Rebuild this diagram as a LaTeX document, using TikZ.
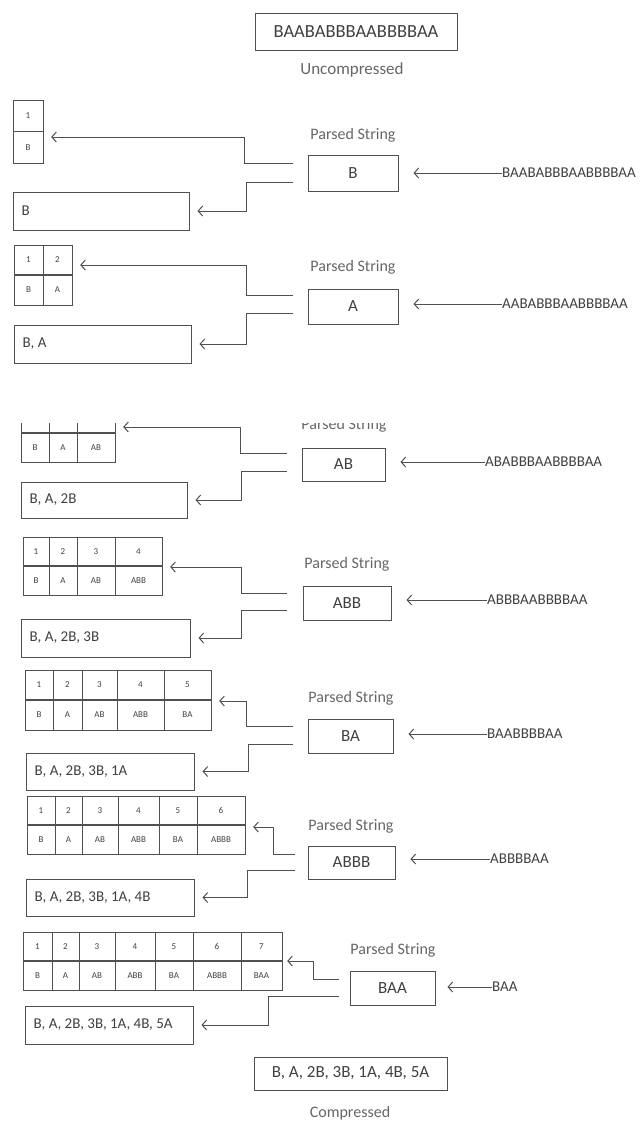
\documentclass[tikz,border=0pt]{standalone}
\usepackage{fontspec}
\setmainfont{Carlito}
\usetikzlibrary{arrows.meta,fit}
\definecolor{LzLine}{HTML}{505050}
\definecolor{LzText}{HTML}{404040}
\definecolor{LzSoft}{HTML}{666666}

\begin{document}
\begin{tikzpicture}[x=1pt,y=-1pt,
    box/.style={draw=LzLine, line width=1pt, inner sep=0pt},
    cell/.style={draw=LzLine, line width=1pt, inner sep=0pt, minimum height=29pt, text=LzText, font=\fontsize{9}{10}\selectfont},
    hull/.style={inner sep=0pt},
    split/.style={draw=LzLine, line width=1.7pt},
    pbox/.style={box, text=LzText, font=\fontsize{17}{20}\selectfont},
    rtext/.style={anchor=west, inner sep=0pt, text=LzText, font=\fontsize{15}{18}\selectfont},
    intext/.style={anchor=west, inner sep=0pt, text=LzText, font=\fontsize{15}{18}\selectfont},
    capt/.style={text=LzSoft, font=\fontsize{16}{19}\selectfont},
    arr/.style={draw=LzLine, line width=1pt, shorten >=8pt, -{Straight Barb[length=4.5pt,width=10pt]}}]
  \useasboundingbox (0,0) rectangle (643,1122);

  % Input string
  \node[pbox, minimum width=202pt, minimum height=37pt, font=\fontsize{18.5}{22}\selectfont] (src) at (356,31.5) {BAABABBBAABBBBAA};
  \node[capt, font=\fontsize{17}{20}\selectfont] (srccap) at (352,70) {Uncompressed};

  % Step 1: B
  \foreach \xa/\xb/\up/\lo [count=\i] in {13/43/1/B}{
    \pgfmathsetmacro\cw{\xb-\xa}
    \node[cell, minimum width=\cw pt, minimum height=31.5pt] (t1u\i) at ({(\xa+\xb)/2},115.75) {\up};
    \node[cell, minimum width=\cw pt, minimum height=31.5pt] (t1l\i) at ({(\xa+\xb)/2},147.25) {\lo};
  }
  \node[hull, fit={(13,100) (43,163)}] (tab1) {};
  \draw[split] (tab1.west) -- (tab1.east);
  \node[capt] (ps1) at (353,135) {Parsed String};
  \node[pbox, minimum width=90pt, minimum height=36pt] (pb1) at (353,173) {B};
  \node[intext] (in1) at (502,173) {BAABABBBAABBBBAA};
  \node[box, fit={(13,192) (189,230)}] (res1) {};
  \node[rtext] (rt1) at ([xshift=9pt]res1.west) {B};
  \coordinate (a1) at (293,163);
  \coordinate (b1) at (293,182);
  \coordinate (ku1) at (244,137);
  \coordinate (kl1) at (246,0);
  \draw[arr, shorten >=15pt] (in1.west) -- (in1.west -| pb1.east);
  \draw[arr] (a1) -| (ku1) -- (ku1 -| tab1.east);
  \draw[arr] (b1) -| (kl1 |- res1.east) -- (res1.east);

  % Step 2: A
  \foreach \xa/\xb/\up/\lo [count=\i] in {14/43/1/B, 43/72/2/A}{
    \pgfmathsetmacro\cw{\xb-\xa}
    \node[cell, minimum width=\cw pt, minimum height=30pt] (t2u\i) at ({(\xa+\xb)/2},260) {\up};
    \node[cell, minimum width=\cw pt, minimum height=30pt] (t2l\i) at ({(\xa+\xb)/2},290) {\lo};
  }
  \node[hull, fit={(14,245) (72,305)}] (tab2) {};
  \draw[split] (tab2.west) -- (tab2.east);
  \node[capt] (ps2) at (353,267) {Parsed String};
  \node[pbox, minimum width=90pt, minimum height=35pt] (pb2) at (353,306.5) {A};
  \node[intext] (in2) at (502,304) {AABABBBAABBBBAA};
  \node[box, fit={(14,325) (191,363)}] (res2) {};
  \node[rtext] (rt2) at ([xshift=9pt]res2.west) {B, A};
  \coordinate (a2) at (293,295);
  \coordinate (b2) at (293,313);
  \coordinate (ku2) at (246,265);
  \coordinate (kl2) at (246,0);
  \draw[arr, shorten >=15pt] (in2.west) -- (in2.west -| pb2.east);
  \draw[arr] (a2) -| (ku2) -- (ku2 -| tab2.east);
  \draw[arr] (b2) -| (kl2 |- res2.east) -- (res2.east);

  % Step 3: AB (top of this step is cut off)
  \foreach \xa/\xb/\up/\lo [count=\i] in {21/49//B, 49/77//A, 77/115//AB}{
    \pgfmathsetmacro\cw{\xb-\xa}
    \node[cell, minimum width=\cw pt] (t3u\i) at ({(\xa+\xb)/2},418.5) {\up};
    \node[cell, minimum width=\cw pt] (t3l\i) at ({(\xa+\xb)/2},447.5) {\lo};
  }
  \node[hull, fit={(21,404) (115,462)}] (tab3) {};
  \draw[split] (tab3.west) -- (tab3.east);
  \node[capt] (ps3) at (344,425) {Parsed String};
  \fill[white] (0,368) rectangle (643,423);
  \node[pbox, minimum width=83pt, minimum height=33pt] (pb3) at (343.5,464.5) {AB};
  \node[intext] (in3) at (485,462) {ABABBBAABBBBAA};
  \node[box, fit={(21,482) (187,518)}] (res3) {};
  \node[rtext] (rt3) at ([xshift=9pt]res3.west) {B, A, 2B};
  \coordinate (a3) at (287,453);
  \coordinate (b3) at (287,471);
  \coordinate (ku3) at (240,427);
  \coordinate (kl3) at (241,0);
  \draw[arr, shorten >=15pt] (in3.west) -- (in3.west -| pb3.east);
  \draw[arr] (a3) -| (ku3) -- (ku3 -| tab3.east);
  \draw[arr] (b3) -| (kl3 |- res3.east) -- (res3.east);

  % Step 4: ABB
  \foreach \xa/\xb/\up/\lo [count=\i] in {23/49/1/B, 49/77/2/A, 77/115/3/AB, 115/162/4/ABB}{
    \pgfmathsetmacro\cw{\xb-\xa}
    \node[cell, minimum width=\cw pt] (t4u\i) at ({(\xa+\xb)/2},551.5) {\up};
    \node[cell, minimum width=\cw pt] (t4l\i) at ({(\xa+\xb)/2},580.5) {\lo};
  }
  \node[hull, fit={(23,537) (162,595)}] (tab4) {};
  \draw[split] (tab4.west) -- (tab4.east);
  \node[capt] (ps4) at (347,564) {Parsed String};
  \node[pbox, minimum width=88pt, minimum height=34pt] (pb4) at (347,603) {ABB};
  \node[intext] (in4) at (487,600) {ABBBAABBBBAA};
  \node[box, fit={(21,619) (190,657)}] (res4) {};
  \node[rtext] (rt4) at ([xshift=9pt]res4.west) {B, A, 2B, 3B};
  \coordinate (a4) at (287,593);
  \coordinate (b4) at (287,610);
  \coordinate (ku4) at (241,567);
  \coordinate (kl4) at (241,0);
  \draw[arr, shorten >=15pt] (in4.west) -- (in4.west -| pb4.east);
  \draw[arr] (a4) -| (ku4) -- (ku4 -| tab4.east);
  \draw[arr] (b4) -| (kl4 |- res4.east) -- (res4.east);

  % Step 5: BA
  \foreach \xa/\xb/\up/\lo [count=\i] in {25/53/1/B, 53/82/2/A, 82/117/3/AB, 117/164/4/ABB, 164/211/5/BA}{
    \pgfmathsetmacro\cw{\xb-\xa}
    \node[cell, minimum width=\cw pt, minimum height=30pt] (t5u\i) at ({(\xa+\xb)/2},685) {\up};
    \node[cell, minimum width=\cw pt, minimum height=30pt] (t5l\i) at ({(\xa+\xb)/2},715) {\lo};
  }
  \node[hull, fit={(25,670) (211,730)}] (tab5) {};
  \draw[split] (tab5.west) -- (tab5.east);
  \node[capt] (ps5) at (351,698) {Parsed String};
  \node[pbox, minimum width=85pt, minimum height=34pt] (pb5) at (350.5,736) {BA};
  \node[intext] (in5) at (487,734) {BAABBBBAA};
  \node[box, fit={(26,753) (194,790)}] (res5) {};
  \node[rtext] (rt5) at ([xshift=9pt]res5.west) {B, A, 2B, 3B, 1A};
  \coordinate (a5) at (293,726);
  \coordinate (b5) at (293,744);
  \coordinate (ku5) at (246,701);
  \coordinate (kl5) at (248,0);
  \draw[arr, shorten >=15pt] (in5.west) -- (in5.west -| pb5.east);
  \draw[arr] (a5) -| (ku5) -- (ku5 -| tab5.east);
  \draw[arr] (b5) -| (kl5 |- res5.east) -- (res5.east);

  % Step 6: ABBB
  \foreach \xa/\xb/\up/\lo [count=\i] in {27/55/1/B, 55/82/2/A, 82/118/3/AB, 118/159/4/ABB, 159/197/5/BA, 197/245/6/ABBB}{
    \pgfmathsetmacro\cw{\xb-\xa}
    \node[cell, minimum width=\cw pt] (t6u\i) at ({(\xa+\xb)/2},810.5) {\up};
    \node[cell, minimum width=\cw pt] (t6l\i) at ({(\xa+\xb)/2},839.5) {\lo};
  }
  \node[hull, fit={(27,796) (245,854)}] (tab6) {};
  \draw[split] (tab6.west) -- (tab6.east);
  \node[capt] (ps6) at (351,826) {Parsed String};
  \node[pbox, minimum width=87pt, minimum height=33pt] (pb6) at (351.5,862.5) {ABBB};
  \node[intext] (in6) at (490,859) {ABBBBAA};
  \node[box, fit={(26,879) (194,916)}] (res6) {};
  \node[rtext] (rt6) at ([xshift=9pt]res6.west) {B, A, 2B, 3B, 1A, 4B};
  \coordinate (a6) at (295,854);
  \coordinate (b6) at (295,870);
  \coordinate (ku6) at (273,827);
  \coordinate (kl6) at (247,0);
  \draw[arr, shorten >=15pt] (in6.west) -- (in6.west -| pb6.east);
  \draw[arr] (a6) -| (ku6) -- (ku6 -| tab6.east);
  \draw[arr] (b6) -| (kl6 |- res6.east) -- (res6.east);

  % Step 7: BAA
  \foreach \xa/\xb/\up/\lo [count=\i] in {23/52/1/B, 52/79/2/A, 79/115/3/AB, 115/155/4/ABB, 155/193/5/BA, 193/241/6/ABBB, 241/282/7/BAA}{
    \pgfmathsetmacro\cw{\xb-\xa}
    \node[cell, minimum width=\cw pt] (t7u\i) at ({(\xa+\xb)/2},946.5) {\up};
    \node[cell, minimum width=\cw pt] (t7l\i) at ({(\xa+\xb)/2},975.5) {\lo};
  }
  \node[hull, fit={(23,932) (282,990)}] (tab7) {};
  \draw[split] (tab7.west) -- (tab7.east);
  \node[capt] (ps7) at (393,950) {Parsed String};
  \node[pbox, minimum width=85pt, minimum height=34pt] (pb7) at (392.5,988) {BAA};
  \node[intext] (in7) at (492,987) {BAA};
  \node[box, fit={(25,1006) (193,1044)}] (res7) {};
  \node[rtext] (rt7) at ([xshift=9pt]res7.west) {B, A, 2B, 3B, 1A, 4B, 5A};
  \coordinate (a7) at (339,979);
  \coordinate (b7) at (339,996);
  \coordinate (ku7) at (313,961);
  \coordinate (kl7) at (268,0);
  \draw[arr, shorten >=12pt] (in7.west) -- (in7.west -| pb7.east);
  \draw[arr, shorten >=5pt] (a7) -| (ku7) -- (ku7 -| tab7.east);
  \draw[arr] (b7) -| (kl7 |- res7.east) -- (res7.east);

  % Output
  \node[pbox, minimum width=193pt, minimum height=33pt] (out) at (350.5,1073.5) {B, A, 2B, 3B, 1A, 4B, 5A};
  \node[capt] (outcap) at (350,1113) {Compressed};
\end{tikzpicture}
\end{document}
